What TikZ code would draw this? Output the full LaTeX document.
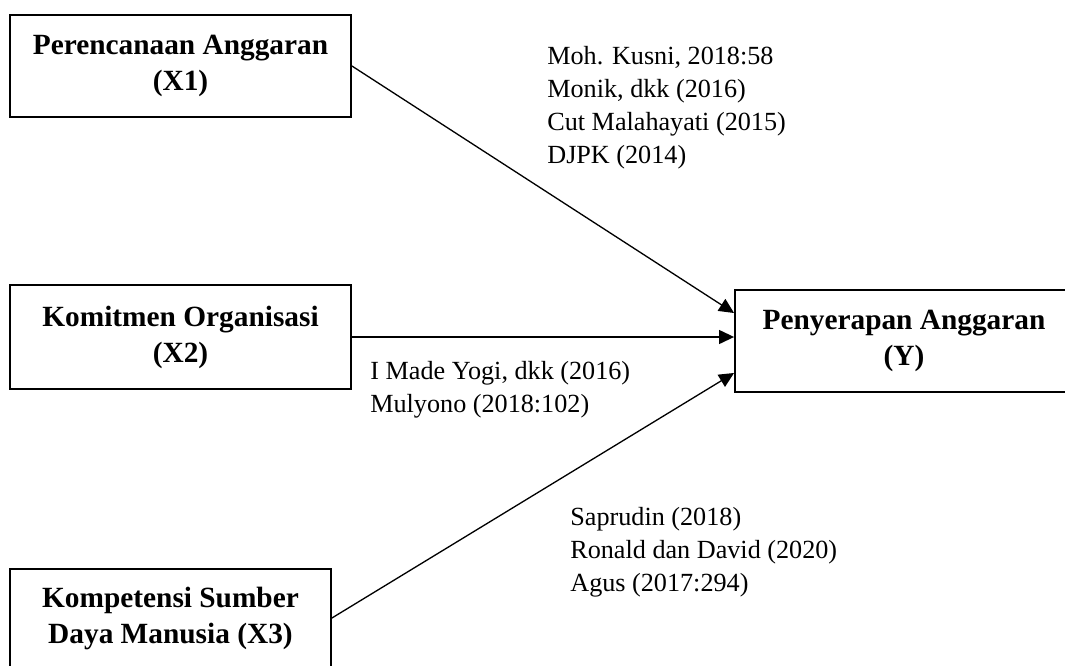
\documentclass[tikz,border=0pt]{standalone}
\usepackage{fontspec}
\setmainfont{Liberation Serif}
\usetikzlibrary{arrows.meta}

\begin{document}
\begin{tikzpicture}[x=0.02cm, y=-0.02cm,
    kotak/.style={draw, line width=1.1pt, align=center, inner sep=0pt,
        font=\bfseries\fontsize{16.7}{20.5}\selectfont},
    sumber/.style={align=left, inner sep=0pt, anchor=west,
        font=\fontsize{14.9}{18.8}\selectfont},
    panah/.style={line width=0.75pt, -{Triangle[length=0.3cm, width=0.28cm]}}]
        \clip (0,0) rectangle (1065,666);

        % Kotak variabel
        \node[kotak, minimum width=6.82cm, minimum height=2.04cm] (X1) at (180.5,66) {Perencanaan Anggaran\\(X1)};
        \node[kotak, minimum width=6.82cm, minimum height=2.08cm] (X2) at (180.5,337) {Komitmen Organisasi\\(X2)};
        \node[kotak, minimum width=6.42cm, minimum height=1.96cm] (X3) at (170.5,618) {Kompetensi Sumber\\Daya Manusia (X3)};
        \node[kotak, minimum width=6.76cm, minimum height=2.04cm] (Y) at (904,341) {Penyerapan Anggaran\\(Y)};

        % Ujung panah
        \coordinate (Y1) at ([yshift=0.56cm]Y.west);
        \coordinate (Y2) at (X2.east -| Y.west);
        \coordinate (Y3) at ([yshift=-0.64cm]Y.west);

        \draw[panah] (X1.east) -- (Y1);
        \draw[panah] (X2.east) -- (Y2);
        \draw[panah] (X3.east) -- (Y3);

        % Sumber
        \node[sumber] (s1) at (547,108) {Moh. Kusni, 2018:58\\Monik, dkk (2016)\\Cut Malahayati (2015)\\DJPK (2014)};
        \node[sumber] (s2) at (370,390) {I Made Yogi, dkk (2016)\\Mulyono (2018:102)};
        \node[sumber] (s3) at (570,552) {Saprudin (2018)\\Ronald dan David (2020)\\Agus (2017:294)};
    \end{tikzpicture}
\end{document}
